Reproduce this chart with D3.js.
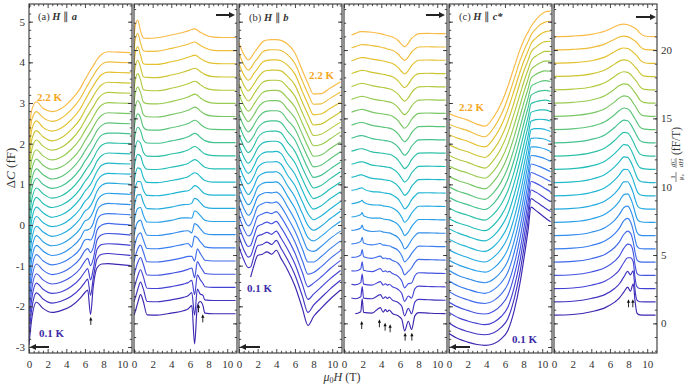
<!DOCTYPE html>
<html><head><meta charset="utf-8">
<script src="https://cdn.jsdelivr.net/npm/d3@7"></script>
<style>
body{margin:0;background:#fff}
svg{display:block}
text{font-family:"Liberation Serif","Times New Roman",serif}
</style>
</head><body>
<svg id="c" width="689" height="386"></svg>
<script>
// ---------------- DATA ----------------
const temps = [0.1,0.2,0.3,0.4,0.5,0.6,0.7,0.8,0.9,1.0,1.1,1.2,1.3,1.4,1.5,1.6,1.7,1.8,1.9,2.0,2.1,2.2];

// (a) H || a : capacitance (fF), curves offset for clarity
const fieldA = [0,0.3,0.8,1.5,2.5,3.5,4.5,5.5,6.0,6.3,6.6,6.9,7.3,7.8,8.5,9.5,10.9];
const capA = [
[-2.95,-2.30,-1.90,-2.05,-2.15,-2.10,-2.00,-1.80,-1.66,-1.60,-2.20,-1.50,-1.05,-0.96,-0.95,-0.97,-1.00],
[-2.95,-2.31,-1.92,-2.07,-2.17,-2.12,-2.01,-1.81,-1.66,-1.58,-1.98,-1.55,-1.08,-0.97,-0.95,-0.97,-1.00],
[-2.95,-2.31,-1.93,-2.08,-2.18,-2.14,-2.02,-1.81,-1.65,-1.57,-1.85,-1.58,-1.10,-0.98,-0.96,-0.97,-1.00],
[-2.95,-2.32,-1.95,-2.10,-2.20,-2.15,-2.03,-1.82,-1.64,-1.57,-1.75,-1.58,-1.12,-0.99,-0.96,-0.97,-1.00],
[-2.95,-2.32,-1.96,-2.11,-2.22,-2.17,-2.04,-1.82,-1.63,-1.58,-1.68,-1.55,-1.13,-1.00,-0.96,-0.98,-1.00],
[-2.95,-2.33,-1.98,-2.13,-2.23,-2.18,-2.05,-1.83,-1.62,-1.60,-1.62,-1.50,-1.14,-1.00,-0.97,-0.98,-1.00],
[-2.95,-2.33,-2.00,-2.14,-2.25,-2.20,-2.06,-1.83,-1.63,-1.62,-1.58,-1.45,-1.15,-1.01,-0.97,-0.98,-1.00],
[-2.95,-2.34,-2.01,-2.16,-2.26,-2.21,-2.07,-1.84,-1.65,-1.62,-1.55,-1.42,-1.16,-1.02,-0.97,-0.98,-1.00],
[-2.95,-2.35,-2.03,-2.17,-2.28,-2.22,-2.08,-1.84,-1.66,-1.61,-1.53,-1.40,-1.17,-1.02,-0.97,-0.98,-1.00],
[-2.95,-2.35,-2.04,-2.19,-2.29,-2.24,-2.09,-1.85,-1.67,-1.60,-1.51,-1.38,-1.17,-1.03,-0.98,-0.99,-1.00],
[-2.95,-2.36,-2.06,-2.20,-2.31,-2.25,-2.10,-1.85,-1.67,-1.59,-1.50,-1.37,-1.18,-1.03,-0.98,-0.99,-1.00],
[-2.95,-2.36,-2.07,-2.22,-2.32,-2.26,-2.11,-1.86,-1.68,-1.59,-1.49,-1.37,-1.18,-1.04,-0.98,-0.99,-1.00],
[-2.95,-2.37,-2.09,-2.23,-2.34,-2.28,-2.12,-1.86,-1.68,-1.58,-1.48,-1.36,-1.18,-1.04,-0.98,-0.99,-1.00],
[-2.95,-2.37,-2.10,-2.25,-2.35,-2.29,-2.13,-1.87,-1.68,-1.58,-1.47,-1.35,-1.18,-1.04,-0.99,-0.99,-1.01],
[-2.95,-2.38,-2.12,-2.26,-2.37,-2.31,-2.14,-1.87,-1.68,-1.57,-1.47,-1.35,-1.18,-1.05,-0.99,-1.00,-1.01],
[-2.95,-2.38,-2.13,-2.28,-2.38,-2.32,-2.15,-1.88,-1.68,-1.57,-1.46,-1.34,-1.18,-1.05,-0.99,-1.00,-1.01],
[-2.95,-2.39,-2.15,-2.30,-2.40,-2.33,-2.15,-1.88,-1.68,-1.57,-1.46,-1.34,-1.18,-1.05,-0.99,-1.00,-1.01],
[-2.95,-2.39,-2.16,-2.31,-2.41,-2.34,-2.16,-1.88,-1.68,-1.56,-1.45,-1.34,-1.18,-1.05,-0.99,-1.00,-1.01],
[-2.95,-2.40,-2.18,-2.33,-2.43,-2.35,-2.16,-1.89,-1.68,-1.56,-1.45,-1.33,-1.18,-1.05,-0.99,-1.00,-1.01],
[-2.95,-2.40,-2.19,-2.35,-2.44,-2.36,-2.17,-1.89,-1.68,-1.56,-1.44,-1.33,-1.18,-1.05,-0.99,-1.00,-1.01],
[-2.95,-2.41,-2.21,-2.36,-2.45,-2.37,-2.17,-1.89,-1.68,-1.56,-1.44,-1.33,-1.18,-1.05,-0.99,-1.00,-1.01],
[-2.96,-2.42,-2.22,-2.38,-2.46,-2.38,-2.18,-1.89,-1.68,-1.56,-1.44,-1.33,-1.18,-1.05,-0.99,-1.00,-1.01]
];

// (a) derivative dC/dH (fF/T)
const fieldDA = [0,0.15,0.4,0.7,1.0,1.4,2.5,4.0,5.3,5.8,6.2,6.5,6.8,7.1,7.4,7.6,8.5,9.5,10.9];
const derA = [
[0.60,0.90,1.50,2.10,1.60,0.62,0.60,0.75,0.92,1.05,1.30,-1.50,1.30,1.60,1.30,0.75,0.70,0.70,0.70],
[0.58,0.90,1.48,2.02,1.52,0.60,0.58,0.72,0.90,1.02,1.25,-0.40,1.50,1.15,1.05,0.72,0.67,0.67,0.67],
[0.55,0.90,1.46,1.92,1.42,0.57,0.55,0.69,0.87,0.98,1.15,0.10,1.55,1.20,0.92,0.68,0.63,0.63,0.63],
[0.52,0.91,1.45,1.82,1.32,0.54,0.52,0.66,0.84,0.95,1.05,0.35,1.52,1.18,0.86,0.65,0.59,0.59,0.59],
[0.49,0.92,1.44,1.72,1.22,0.51,0.49,0.63,0.81,0.90,0.90,0.55,1.45,1.12,0.80,0.62,0.56,0.56,0.56],
[0.46,0.93,1.43,1.62,1.12,0.48,0.46,0.60,0.78,0.84,0.58,1.38,1.25,0.98,0.74,0.60,0.52,0.52,0.52],
[0.43,0.94,1.42,1.55,1.02,0.45,0.43,0.57,0.75,0.78,0.62,1.30,1.18,0.94,0.70,0.58,0.49,0.49,0.49],
[0.40,0.94,1.41,1.48,0.92,0.42,0.40,0.54,0.72,0.72,0.70,1.22,1.12,0.90,0.66,0.55,0.45,0.45,0.45],
[0.37,0.94,1.40,1.42,0.84,0.39,0.37,0.51,0.69,0.70,0.80,1.15,1.06,0.85,0.62,0.52,0.41,0.41,0.41],
[0.34,0.93,1.39,1.36,0.76,0.36,0.34,0.48,0.66,0.70,0.88,1.08,1.00,0.80,0.58,0.49,0.38,0.38,0.38],
[0.31,0.92,1.38,1.30,0.68,0.32,0.30,0.45,0.63,0.72,0.92,1.02,0.94,0.75,0.55,0.46,0.34,0.34,0.34],
[0.28,0.91,1.37,1.24,0.60,0.28,0.26,0.42,0.60,0.70,0.88,0.98,0.90,0.71,0.52,0.43,0.30,0.30,0.30],
[0.25,0.90,1.36,1.18,0.52,0.24,0.22,0.39,0.57,0.68,0.85,0.94,0.86,0.67,0.49,0.40,0.27,0.26,0.26],
[0.22,0.89,1.35,1.12,0.44,0.20,0.18,0.35,0.54,0.65,0.81,0.90,0.82,0.63,0.46,0.37,0.23,0.22,0.22],
[0.19,0.88,1.33,1.05,0.36,0.16,0.14,0.31,0.51,0.62,0.77,0.86,0.78,0.59,0.43,0.34,0.19,0.18,0.18],
[0.16,0.87,1.31,0.98,0.28,0.12,0.10,0.27,0.48,0.59,0.73,0.82,0.74,0.55,0.40,0.31,0.16,0.14,0.14],
[0.13,0.86,1.29,0.90,0.20,0.08,0.06,0.23,0.45,0.56,0.69,0.77,0.70,0.51,0.37,0.28,0.12,0.10,0.10],
[0.10,0.85,1.27,0.82,0.12,0.04,0.02,0.20,0.42,0.53,0.65,0.72,0.65,0.47,0.34,0.25,0.09,0.06,0.06],
[0.07,0.84,1.25,0.73,0.05,0.00,-0.02,0.17,0.39,0.50,0.61,0.67,0.60,0.43,0.31,0.22,0.05,0.03,0.03],
[0.05,0.83,1.23,0.64,0.00,-0.05,-0.05,0.14,0.36,0.47,0.57,0.63,0.55,0.39,0.28,0.19,0.02,0.00,0.00],
[0.02,0.82,1.21,0.52,-0.05,-0.10,-0.08,0.12,0.33,0.43,0.53,0.59,0.50,0.35,0.24,0.16,-0.02,-0.04,-0.04],
[0.00,0.80,1.20,0.40,-0.10,-0.15,-0.10,0.10,0.30,0.40,0.50,0.55,0.45,0.30,0.20,0.12,-0.05,-0.08,-0.08]
];

// (b) H || b : capacitance
const fieldB = [0,0.5,1.0,1.25,1.6,2.0,2.5,3.0,3.5,4.0,4.5,5.2,6.0,6.8,7.4,8.0,8.8,9.8,10.9];
const capB = [
[null,null,null,-1.28,-1.00,-0.75,-0.72,-0.66,-0.72,-0.62,-0.82,-1.10,-1.50,-2.05,-2.47,-2.25,-2.05,-1.82,-1.60],
[-0.78,-1.10,-1.30,-1.28,-1.02,-0.76,-0.73,-0.67,-0.73,-0.63,-0.82,-1.10,-1.48,-2.00,-2.40,-2.22,-2.04,-1.82,-1.61],
[-0.78,-1.10,-1.29,-1.26,-1.03,-0.77,-0.73,-0.68,-0.73,-0.65,-0.82,-1.09,-1.46,-1.96,-2.33,-2.20,-2.03,-1.82,-1.62],
[-0.78,-1.09,-1.28,-1.25,-1.03,-0.78,-0.73,-0.68,-0.72,-0.66,-0.81,-1.08,-1.44,-1.92,-2.27,-2.18,-2.03,-1.82,-1.62],
[-0.78,-1.09,-1.27,-1.24,-1.04,-0.79,-0.73,-0.69,-0.72,-0.67,-0.80,-1.07,-1.42,-1.88,-2.21,-2.17,-2.03,-1.82,-1.63],
[-0.78,-1.09,-1.27,-1.23,-1.04,-0.80,-0.73,-0.69,-0.71,-0.68,-0.79,-1.06,-1.40,-1.84,-2.16,-2.16,-2.03,-1.83,-1.64],
[-0.78,-1.08,-1.26,-1.22,-1.04,-0.81,-0.73,-0.70,-0.71,-0.69,-0.78,-1.05,-1.37,-1.80,-2.11,-2.15,-2.03,-1.83,-1.65],
[-0.78,-1.08,-1.25,-1.21,-1.05,-0.82,-0.73,-0.70,-0.70,-0.69,-0.77,-1.04,-1.34,-1.76,-2.06,-2.14,-2.03,-1.84,-1.66],
[-0.78,-1.08,-1.25,-1.20,-1.05,-0.83,-0.74,-0.70,-0.70,-0.69,-0.76,-1.03,-1.31,-1.72,-2.01,-2.13,-2.03,-1.84,-1.66],
[-0.78,-1.07,-1.24,-1.19,-1.05,-0.84,-0.74,-0.70,-0.70,-0.69,-0.75,-1.02,-1.28,-1.68,-1.97,-2.12,-2.03,-1.85,-1.67],
[-0.78,-1.07,-1.23,-1.19,-1.05,-0.85,-0.74,-0.70,-0.70,-0.69,-0.74,-1.00,-1.25,-1.65,-1.94,-2.11,-2.03,-1.85,-1.68],
[-0.78,-1.07,-1.23,-1.18,-1.05,-0.86,-0.74,-0.70,-0.69,-0.69,-0.74,-0.98,-1.22,-1.62,-1.91,-2.10,-2.03,-1.86,-1.69],
[-0.78,-1.06,-1.22,-1.18,-1.05,-0.86,-0.74,-0.70,-0.69,-0.69,-0.73,-0.96,-1.19,-1.59,-1.88,-2.09,-2.03,-1.86,-1.69],
[-0.78,-1.06,-1.22,-1.17,-1.05,-0.87,-0.75,-0.70,-0.69,-0.69,-0.73,-0.94,-1.16,-1.56,-1.86,-2.08,-2.03,-1.87,-1.70],
[-0.78,-1.06,-1.21,-1.17,-1.04,-0.88,-0.75,-0.70,-0.69,-0.69,-0.72,-0.92,-1.14,-1.54,-1.84,-2.07,-2.03,-1.87,-1.70],
[-0.78,-1.06,-1.21,-1.16,-1.04,-0.88,-0.75,-0.70,-0.69,-0.69,-0.72,-0.90,-1.12,-1.52,-1.82,-2.06,-2.03,-1.87,-1.71],
[-0.78,-1.05,-1.20,-1.16,-1.03,-0.89,-0.75,-0.70,-0.69,-0.69,-0.72,-0.88,-1.10,-1.50,-1.80,-2.05,-2.02,-1.88,-1.71],
[-0.78,-1.05,-1.20,-1.16,-1.03,-0.89,-0.75,-0.70,-0.69,-0.69,-0.71,-0.86,-1.08,-1.49,-1.79,-2.05,-2.02,-1.88,-1.72],
[-0.78,-1.05,-1.20,-1.15,-1.03,-0.89,-0.75,-0.70,-0.69,-0.69,-0.71,-0.84,-1.06,-1.48,-1.78,-2.04,-2.02,-1.88,-1.72],
[-0.78,-1.05,-1.19,-1.15,-1.02,-0.90,-0.75,-0.70,-0.69,-0.69,-0.71,-0.82,-1.04,-1.47,-1.78,-2.04,-2.02,-1.88,-1.73],
[-0.78,-1.05,-1.19,-1.15,-1.02,-0.90,-0.75,-0.70,-0.69,-0.69,-0.71,-0.81,-1.03,-1.46,-1.77,-2.03,-2.02,-1.88,-1.73],
[-0.78,-1.05,-1.19,-1.15,-1.02,-0.90,-0.75,-0.70,-0.69,-0.69,-0.71,-0.80,-1.02,-1.45,-1.77,-2.03,-2.02,-1.88,-1.73]
];

// (b) derivative
const fieldDB = [0.8,1.2,1.8,1.95,2.1,3.0,3.9,4.2,4.45,4.65,4.85,5.2,5.8,6.2,6.5,6.9,7.25,7.6,8.0,9.0,10.0,10.9];
const derB = [
[null,0.70,0.85,1.80,0.80,0.75,1.15,0.82,1.00,0.85,0.98,0.72,0.55,0.30,-0.55,0.15,-0.45,0.55,0.78,0.75,0.72,0.71],
[0.85,0.80,0.95,1.70,0.85,0.80,1.10,0.82,0.95,0.82,0.92,0.70,0.52,0.25,-0.45,0.10,-0.30,0.55,0.75,0.73,0.70,0.69],
[0.85,0.82,0.98,1.60,0.87,0.80,1.05,0.80,0.90,0.80,0.86,0.68,0.48,0.18,-0.40,0.00,-0.15,0.52,0.72,0.70,0.68,0.67],
[0.84,0.83,1.00,1.50,0.88,0.78,1.00,0.78,0.84,0.76,0.80,0.64,0.44,0.10,-0.40,-0.10,-0.05,0.48,0.70,0.68,0.66,0.65],
[0.83,0.84,1.00,1.40,0.88,0.76,0.92,0.75,0.78,0.72,0.74,0.60,0.40,0.02,-0.45,-0.20,0.05,0.45,0.68,0.66,0.64,0.63],
[0.82,0.84,1.00,1.30,0.88,0.74,0.84,0.72,0.72,0.68,0.68,0.56,0.34,-0.05,-0.50,-0.25,0.10,0.42,0.65,0.64,0.62,0.61],
[0.80,0.83,0.98,1.20,0.88,0.72,0.76,0.68,0.66,0.63,0.62,0.52,0.28,-0.12,-0.55,-0.30,0.10,0.40,0.62,0.62,0.60,0.59],
[0.78,0.82,0.96,1.10,0.87,0.70,0.70,0.64,0.61,0.59,0.57,0.48,0.22,-0.18,-0.58,-0.33,0.08,0.37,0.60,0.60,0.58,0.57],
[0.75,0.80,0.93,1.00,0.86,0.67,0.65,0.60,0.57,0.55,0.53,0.44,0.16,-0.24,-0.60,-0.35,0.06,0.34,0.57,0.58,0.56,0.55],
[0.72,0.78,0.90,0.92,0.84,0.64,0.60,0.56,0.53,0.51,0.49,0.40,0.10,-0.30,-0.62,-0.38,0.04,0.32,0.55,0.56,0.54,0.53],
[0.68,0.75,0.86,0.86,0.82,0.61,0.55,0.52,0.49,0.47,0.45,0.36,0.05,-0.35,-0.64,-0.40,0.02,0.30,0.52,0.54,0.52,0.51],
[0.64,0.72,0.82,0.82,0.80,0.58,0.51,0.48,0.45,0.43,0.41,0.32,0.00,-0.40,-0.66,-0.42,0.00,0.27,0.49,0.51,0.49,0.48],
[0.60,0.68,0.78,0.78,0.76,0.55,0.47,0.44,0.41,0.39,0.37,0.28,-0.05,-0.44,-0.68,-0.44,-0.02,0.25,0.46,0.48,0.46,0.46],
[0.55,0.64,0.74,0.74,0.72,0.52,0.43,0.40,0.37,0.35,0.33,0.24,-0.09,-0.48,-0.70,-0.45,-0.04,0.23,0.43,0.45,0.43,0.43],
[0.50,0.60,0.70,0.70,0.68,0.49,0.39,0.36,0.33,0.31,0.29,0.20,-0.13,-0.51,-0.71,-0.46,-0.06,0.21,0.40,0.42,0.40,0.40],
[0.45,0.55,0.65,0.66,0.64,0.46,0.35,0.32,0.29,0.27,0.25,0.16,-0.17,-0.54,-0.72,-0.47,-0.08,0.19,0.37,0.39,0.37,0.37],
[0.38,0.49,0.60,0.61,0.60,0.43,0.32,0.29,0.26,0.23,0.21,0.12,-0.20,-0.56,-0.73,-0.48,-0.10,0.17,0.34,0.36,0.34,0.34],
[0.32,0.43,0.55,0.56,0.55,0.40,0.29,0.26,0.23,0.19,0.17,0.08,-0.23,-0.57,-0.74,-0.49,-0.12,0.15,0.31,0.33,0.31,0.31],
[0.26,0.37,0.50,0.51,0.50,0.37,0.26,0.23,0.20,0.15,0.13,0.04,-0.25,-0.58,-0.75,-0.50,-0.13,0.13,0.28,0.30,0.28,0.28],
[0.20,0.31,0.44,0.45,0.45,0.34,0.24,0.20,0.16,0.12,0.09,0.01,-0.27,-0.59,-0.75,-0.50,-0.14,0.10,0.25,0.27,0.25,0.25],
[0.15,0.25,0.39,0.40,0.40,0.32,0.22,0.17,0.13,0.08,0.05,-0.02,-0.29,-0.60,-0.76,-0.50,-0.15,0.07,0.22,0.24,0.22,0.22],
[0.10,0.20,0.35,0.35,0.35,0.30,0.20,0.15,0.10,0.06,0.03,-0.05,-0.30,-0.60,-0.76,-0.50,-0.15,0.05,0.20,0.22,0.20,0.20]
];

// (c) H || c* : capacitance
const fieldC = [0,1,2,3,3.85,4.8,5.6,6.3,7.0,7.6,8.2,8.5,8.8,9.3,9.8,10.3,10.9];
const capC = [
[-2.67,-2.80,-2.88,-2.94,-2.96,-2.92,-2.80,-2.60,-2.10,-1.45,-0.58,-0.10,0.44,0.36,0.27,0.18,0.08],
[-2.66,-2.79,-2.87,-2.93,-2.95,-2.90,-2.77,-2.56,-2.06,-1.43,-0.58,-0.12,0.40,0.33,0.25,0.17,0.08],
[-2.65,-2.78,-2.86,-2.92,-2.95,-2.89,-2.75,-2.53,-2.03,-1.40,-0.58,-0.14,0.36,0.31,0.24,0.16,0.07],
[-2.65,-2.77,-2.85,-2.92,-2.94,-2.87,-2.72,-2.49,-1.99,-1.38,-0.59,-0.16,0.32,0.28,0.22,0.15,0.07],
[-2.64,-2.76,-2.84,-2.91,-2.93,-2.86,-2.70,-2.46,-1.96,-1.35,-0.59,-0.18,0.29,0.25,0.20,0.14,0.07],
[-2.63,-2.75,-2.83,-2.90,-2.93,-2.84,-2.67,-2.42,-1.92,-1.33,-0.59,-0.20,0.25,0.22,0.18,0.13,0.06],
[-2.62,-2.74,-2.82,-2.89,-2.92,-2.83,-2.65,-2.39,-1.89,-1.31,-0.59,-0.21,0.21,0.20,0.17,0.13,0.06],
[-2.62,-2.73,-2.81,-2.88,-2.91,-2.81,-2.62,-2.35,-1.85,-1.28,-0.59,-0.23,0.17,0.17,0.15,0.12,0.06],
[-2.61,-2.72,-2.80,-2.88,-2.91,-2.79,-2.59,-2.31,-1.82,-1.26,-0.60,-0.25,0.13,0.14,0.13,0.11,0.05],
[-2.60,-2.71,-2.79,-2.87,-2.90,-2.78,-2.57,-2.28,-1.78,-1.24,-0.60,-0.27,0.09,0.12,0.12,0.10,0.05],
[-2.59,-2.70,-2.78,-2.86,-2.89,-2.76,-2.54,-2.24,-1.75,-1.21,-0.60,-0.29,0.05,0.09,0.10,0.09,0.05],
[-2.59,-2.70,-2.77,-2.85,-2.89,-2.75,-2.52,-2.21,-1.71,-1.19,-0.60,-0.31,0.02,0.06,0.08,0.08,0.04],
[-2.58,-2.69,-2.76,-2.84,-2.88,-2.73,-2.49,-2.17,-1.68,-1.16,-0.60,-0.33,-0.02,0.03,0.06,0.07,0.04],
[-2.57,-2.68,-2.75,-2.83,-2.87,-2.72,-2.46,-2.13,-1.64,-1.14,-0.60,-0.35,-0.06,0.01,0.05,0.06,0.04],
[-2.56,-2.67,-2.74,-2.83,-2.87,-2.70,-2.44,-2.10,-1.61,-1.12,-0.61,-0.37,-0.10,-0.02,0.03,0.05,0.03],
[-2.56,-2.66,-2.73,-2.82,-2.86,-2.68,-2.41,-2.06,-1.57,-1.09,-0.61,-0.39,-0.14,-0.05,0.01,0.04,0.03],
[-2.55,-2.65,-2.72,-2.81,-2.85,-2.67,-2.39,-2.03,-1.54,-1.07,-0.61,-0.40,-0.18,-0.08,-0.01,0.03,0.03],
[-2.54,-2.64,-2.71,-2.80,-2.85,-2.65,-2.36,-1.99,-1.50,-1.05,-0.61,-0.42,-0.22,-0.10,-0.03,0.02,0.02],
[-2.53,-2.63,-2.70,-2.79,-2.84,-2.64,-2.34,-1.96,-1.47,-1.02,-0.61,-0.44,-0.25,-0.13,-0.04,0.01,0.02],
[-2.53,-2.62,-2.69,-2.79,-2.83,-2.62,-2.31,-1.92,-1.43,-1.00,-0.62,-0.46,-0.29,-0.16,-0.06,0.00,0.02],
[-2.52,-2.61,-2.68,-2.78,-2.83,-2.61,-2.29,-1.89,-1.40,-0.97,-0.62,-0.48,-0.33,-0.18,-0.07,-0.01,0.01],
[-2.51,-2.60,-2.67,-2.77,-2.82,-2.59,-2.26,-1.85,-1.36,-0.95,-0.62,-0.50,-0.37,-0.21,-0.09,-0.01,0.01]
];

// (c) derivative
const fieldDC = [0,2,4,5.5,6.5,7.0,7.5,7.9,8.2,8.5,8.7,8.9,9.2,9.7,10.3,10.9];
const derC = [
[0.60,0.65,0.85,1.15,1.55,1.85,2.30,2.65,2.35,2.90,1.60,0.75,0.62,0.60,0.60,0.60],
[0.57,0.62,0.82,1.12,1.55,1.88,2.40,2.80,2.55,2.85,1.40,0.70,0.58,0.57,0.57,0.57],
[0.54,0.59,0.79,1.10,1.55,1.90,2.45,2.80,2.80,2.50,1.30,0.68,0.55,0.54,0.54,0.54],
[0.51,0.56,0.76,1.08,1.55,1.92,2.50,2.80,2.75,2.20,1.25,0.66,0.52,0.51,0.51,0.51],
[0.48,0.53,0.73,1.06,1.55,1.94,2.52,2.75,2.60,1.95,1.20,0.65,0.50,0.48,0.48,0.48],
[0.45,0.50,0.70,1.04,1.55,1.95,2.52,2.68,2.45,1.80,1.15,0.65,0.48,0.45,0.45,0.45],
[0.42,0.47,0.67,1.02,1.54,1.95,2.48,2.58,2.30,1.70,1.12,0.66,0.46,0.42,0.42,0.42],
[0.39,0.44,0.64,1.00,1.52,1.93,2.42,2.47,2.18,1.62,1.10,0.67,0.45,0.40,0.39,0.39],
[0.36,0.41,0.61,0.97,1.50,1.90,2.35,2.36,2.06,1.55,1.08,0.68,0.44,0.38,0.36,0.36],
[0.33,0.38,0.58,0.94,1.48,1.86,2.27,2.26,1.96,1.48,1.06,0.69,0.43,0.35,0.33,0.33],
[0.30,0.35,0.55,0.91,1.45,1.82,2.18,2.15,1.87,1.42,1.04,0.70,0.42,0.33,0.30,0.30],
[0.27,0.32,0.52,0.88,1.42,1.77,2.08,2.04,1.78,1.36,1.02,0.71,0.41,0.30,0.27,0.27],
[0.24,0.29,0.49,0.85,1.38,1.72,1.98,1.93,1.69,1.30,1.00,0.72,0.40,0.27,0.24,0.24],
[0.21,0.26,0.46,0.81,1.33,1.65,1.87,1.82,1.60,1.24,0.98,0.72,0.39,0.24,0.21,0.21],
[0.18,0.23,0.42,0.77,1.27,1.57,1.76,1.71,1.51,1.18,0.95,0.71,0.38,0.21,0.18,0.18],
[0.15,0.20,0.38,0.73,1.21,1.49,1.65,1.60,1.42,1.12,0.92,0.70,0.37,0.18,0.15,0.15],
[0.12,0.17,0.34,0.68,1.14,1.40,1.53,1.49,1.33,1.06,0.88,0.68,0.36,0.15,0.12,0.12],
[0.09,0.14,0.30,0.62,1.06,1.30,1.41,1.37,1.23,0.99,0.83,0.66,0.35,0.12,0.09,0.09],
[0.07,0.11,0.26,0.56,0.97,1.19,1.28,1.24,1.12,0.91,0.77,0.62,0.33,0.09,0.06,0.06],
[0.04,0.08,0.22,0.50,0.88,1.07,1.15,1.11,1.01,0.83,0.71,0.58,0.30,0.07,0.03,0.03],
[0.01,0.05,0.18,0.45,0.79,0.96,1.02,0.98,0.89,0.75,0.66,0.54,0.28,0.05,0.01,0.00],
[-0.02,0.02,0.15,0.40,0.70,0.85,0.90,0.85,0.78,0.67,0.60,0.50,0.25,0.03,-0.01,-0.02]
];

// feature markers (panel index, field in T, value in panel units)
const markerPanel = [0,1,1,3,3,3,3,3,3,5,5];
const markerField = [6.63,6.92,7.38,1.9,3.8,4.41,4.95,6.56,7.28,7.99,8.46];
const markerValue = [-2.26,1.39,0.66,0.17,0.30,0.05,-0.07,-0.68,-0.68,1.76,1.76];

const xTicks = [0,2,4,6,8,10];
const capTicks = [-3,-2,-1,0,1,2,3,4,5];
const derTicks = [0,5,10,15,20];

// ---------------- DRAWING ----------------
const svg = d3.select("#c");
const W = 103, TOP = 4, BOT = 353;
const lefts = [29,134,239,344,449,554];
const x = d3.scaleLinear().domain([0,11.05]).range([0,W]);
const yL = d3.scaleLinear().domain([-3.148,5.435]).range([BOT,TOP]);
const yR = d3.scaleLinear().domain([-2.17,23.37]).range([BOT,TOP]);
const stops = ["#3b27b0","#4646d8","#3d78f0","#2aa0e8","#1fb8d2","#27c0ae","#5cc47a","#a2cc48","#e0c22a","#f9bb46"];
const color = d3.scaleLinear().domain(stops.map((d,i)=>i/(stops.length-1))).range(stops).interpolate(d3.interpolateRgb);
const FRAME = "#333";

const panels = [
  {field:fieldA, rows:capA, y:yL, step:0.25, cap:true},
  {field:fieldDA, rows:derA, y:yR, step:1, cap:false},
  {field:fieldB, rows:capB, y:yL, step:0.25, cap:true},
  {field:fieldDB, rows:derB, y:yR, step:1, cap:false},
  {field:fieldC, rows:capC, y:yL, step:0.25, cap:true},
  {field:fieldDC, rows:derC, y:yR, step:1, cap:false}
];

function styleAxis(sel){
  sel.select(".domain").remove();
  sel.selectAll("line").attr("stroke",FRAME).attr("stroke-width",0.9);
  sel.selectAll("text").attr("fill","#333");
  sel.attr("font-family","Liberation Serif, serif").attr("font-size",11);
}

panels.forEach((p,k)=>{
  const g = svg.append("g").attr("transform",`translate(${lefts[k]},0)`);
  g.append("clipPath").attr("id","cp"+k).append("rect")
    .attr("x",0).attr("y",TOP).attr("width",W).attr("height",BOT-TOP);
  const cg = g.append("g").attr("clip-path",`url(#cp${k})`);
  const line = d3.line().defined(d=>d[1]!=null)
    .x(d=>x(d[0])).y(d=>p.y(d[1])).curve(d3.curveMonotoneX);
  p.rows.forEach((row,i)=>{
    const pts = p.field.map((h,j)=>[h, row[j]==null?null:row[j]+i*p.step]);
    cg.append("path").attr("d",line(pts)).attr("fill","none")
      .attr("stroke",color(i/(temps.length-1))).attr("stroke-width",1.15)
      .attr("stroke-linejoin","round");
  });

  // axes
  const xMin = d3.range(0.5,11,0.5).filter(v=>v%2!==0);
  const yMaj = p.cap ? capTicks : derTicks;
  const yMin = p.cap ? d3.range(-3,5.41,0.2) : d3.range(-2,24,1);
  const fmt = d=>String(d);

  g.append("g").attr("transform",`translate(0,${BOT})`)
   .call(d3.axisBottom(x).tickValues(xTicks).tickSize(-4).tickSizeOuter(0).tickPadding(7).tickFormat(fmt)).call(styleAxis);
  g.append("g").attr("transform",`translate(0,${BOT})`)
   .call(d3.axisBottom(x).tickValues(xMin).tickSize(-2.2).tickSizeOuter(0).tickFormat("")).call(styleAxis);
  g.append("g").attr("transform",`translate(0,${TOP})`)
   .call(d3.axisTop(x).tickValues(xTicks).tickSize(-4).tickSizeOuter(0).tickFormat("")).call(styleAxis);
  g.append("g").attr("transform",`translate(0,${TOP})`)
   .call(d3.axisTop(x).tickValues(xMin).tickSize(-2.2).tickSizeOuter(0).tickFormat("")).call(styleAxis);

  g.append("g").call(d3.axisLeft(p.y).tickValues(yMaj).tickSize(-4).tickSizeOuter(0).tickPadding(4)
      .tickFormat(k===0?fmt:"")).call(styleAxis);
  g.append("g").call(d3.axisLeft(p.y).tickValues(yMin).tickSize(-2.2).tickSizeOuter(0).tickFormat("")).call(styleAxis);
  g.append("g").attr("transform",`translate(${W},0)`)
   .call(d3.axisRight(p.y).tickValues(yMaj).tickSize(-4).tickSizeOuter(0).tickPadding(4)
      .tickFormat(k===5?fmt:"")).call(styleAxis);
  g.append("g").attr("transform",`translate(${W},0)`)
   .call(d3.axisRight(p.y).tickValues(yMin).tickSize(-2.2).tickSizeOuter(0).tickFormat("")).call(styleAxis);

  g.append("rect").attr("x",0).attr("y",TOP).attr("width",W).attr("height",BOT-TOP)
   .attr("fill","none").attr("stroke",FRAME).attr("stroke-width",1.1);
});

// feature arrows (small, pointing up)
markerPanel.forEach((pk,j)=>{
  const p = panels[pk];
  const ax = lefts[pk] + x(markerField[j]);
  const ay = p.y(markerValue[j]);
  svg.append("line").attr("x1",ax).attr("x2",ax).attr("y1",ay+2).attr("y2",ay+8)
    .attr("stroke","#111").attr("stroke-width",0.9);
  svg.append("path").attr("d",`M${ax},${ay} L${ax-1.6},${ay+3.5} L${ax+1.6},${ay+3.5} Z`).attr("fill","#111");
});

// big direction arrows
function bigArrow(x1,x2,y){
  const dir = Math.sign(x2-x1);
  svg.append("line").attr("x1",x1).attr("x2",x2-dir*5).attr("y1",y).attr("y2",y)
    .attr("stroke","#222").attr("stroke-width",2);
  svg.append("path").attr("d",`M${x2},${y} L${x2-dir*6},${y-3} L${x2-dir*6},${y+3} Z`).attr("fill","#222");
}
bigArrow(49,30,347);
bigArrow(216,235,15);
bigArrow(260,240,347);
bigArrow(426,445,15);
bigArrow(470,450,347);
bigArrow(636,656,17);

// panel titles
function title(xp,yp,letter,ax){
  const t = svg.append("text").attr("x",xp).attr("y",yp).attr("font-size",10.5).attr("fill","#333");
  t.append("tspan").text(`(${letter}) `);
  t.append("tspan").attr("font-style","italic").attr("font-weight","bold").text("H");
  t.append("tspan").text(" \u2225 ");
  t.append("tspan").attr("font-style","italic").attr("font-weight","bold").text(ax);
}
title(38,20,"a","a");
title(249,21,"b","b");
title(459,20,"c","c*");

// temperature labels
function tlabel(xp,yp,txt,col){
  svg.append("text").attr("x",xp).attr("y",yp).attr("font-size",11).attr("font-weight","bold")
    .attr("fill",col).text(txt);
}
const hotCol = "#f5a623", coldCol = "#3d2ba8";
tlabel(37,101,"2.2 K",hotCol);
tlabel(39,337,"0.1 K",coldCol);
tlabel(309,79,"2.2 K",hotCol);
tlabel(247,292,"0.1 K",coldCol);
tlabel(459,111,"2.2 K",hotCol);
tlabel(512,343,"0.1 K",coldCol);

// axis titles
const xt = svg.append("text").attr("x",342).attr("y",381).attr("text-anchor","middle")
  .attr("font-size",12).attr("fill","#333");
xt.append("tspan").attr("font-style","italic").text("\u03bc");
xt.append("tspan").attr("font-size",8).attr("dy",2).text("0");
xt.append("tspan").attr("font-style","italic").attr("dy",-2).text("H");
xt.append("tspan").text(" (T)");

const yt = svg.append("text").attr("transform","translate(15,168) rotate(-90)")
  .attr("text-anchor","middle").attr("font-size",13).attr("fill","#333");
yt.append("tspan").text("\u0394");
yt.append("tspan").attr("font-style","italic").text("C");
yt.append("tspan").text(" (fF)");

// right axis title: 1/mu0 dC/dH (fF/T)
const rl = svg.append("g").attr("transform","translate(676,165) rotate(-90)").attr("fill","#333");
function frac(cx,num,den,italic){
  rl.append("text").attr("x",cx).attr("y",-1.5).attr("text-anchor","middle").attr("font-size",7)
    .attr("font-style",italic?"italic":"normal").text(num);
  rl.append("line").attr("x1",cx-5).attr("x2",cx+5).attr("y1",0).attr("y2",0)
    .attr("stroke","#333").attr("stroke-width",0.6);
  rl.append("text").attr("x",cx).attr("y",6.5).attr("text-anchor","middle").attr("font-size",7)
    .attr("font-style",italic?"italic":"normal").text(den);
}
frac(-12,"1","\u03bc\u2080",false);
frac(2,"dC","dH",true);
rl.append("text").attr("x",10).attr("y",4).attr("font-size",11.5).text("(fF/T)");
</script>
</body></html>
